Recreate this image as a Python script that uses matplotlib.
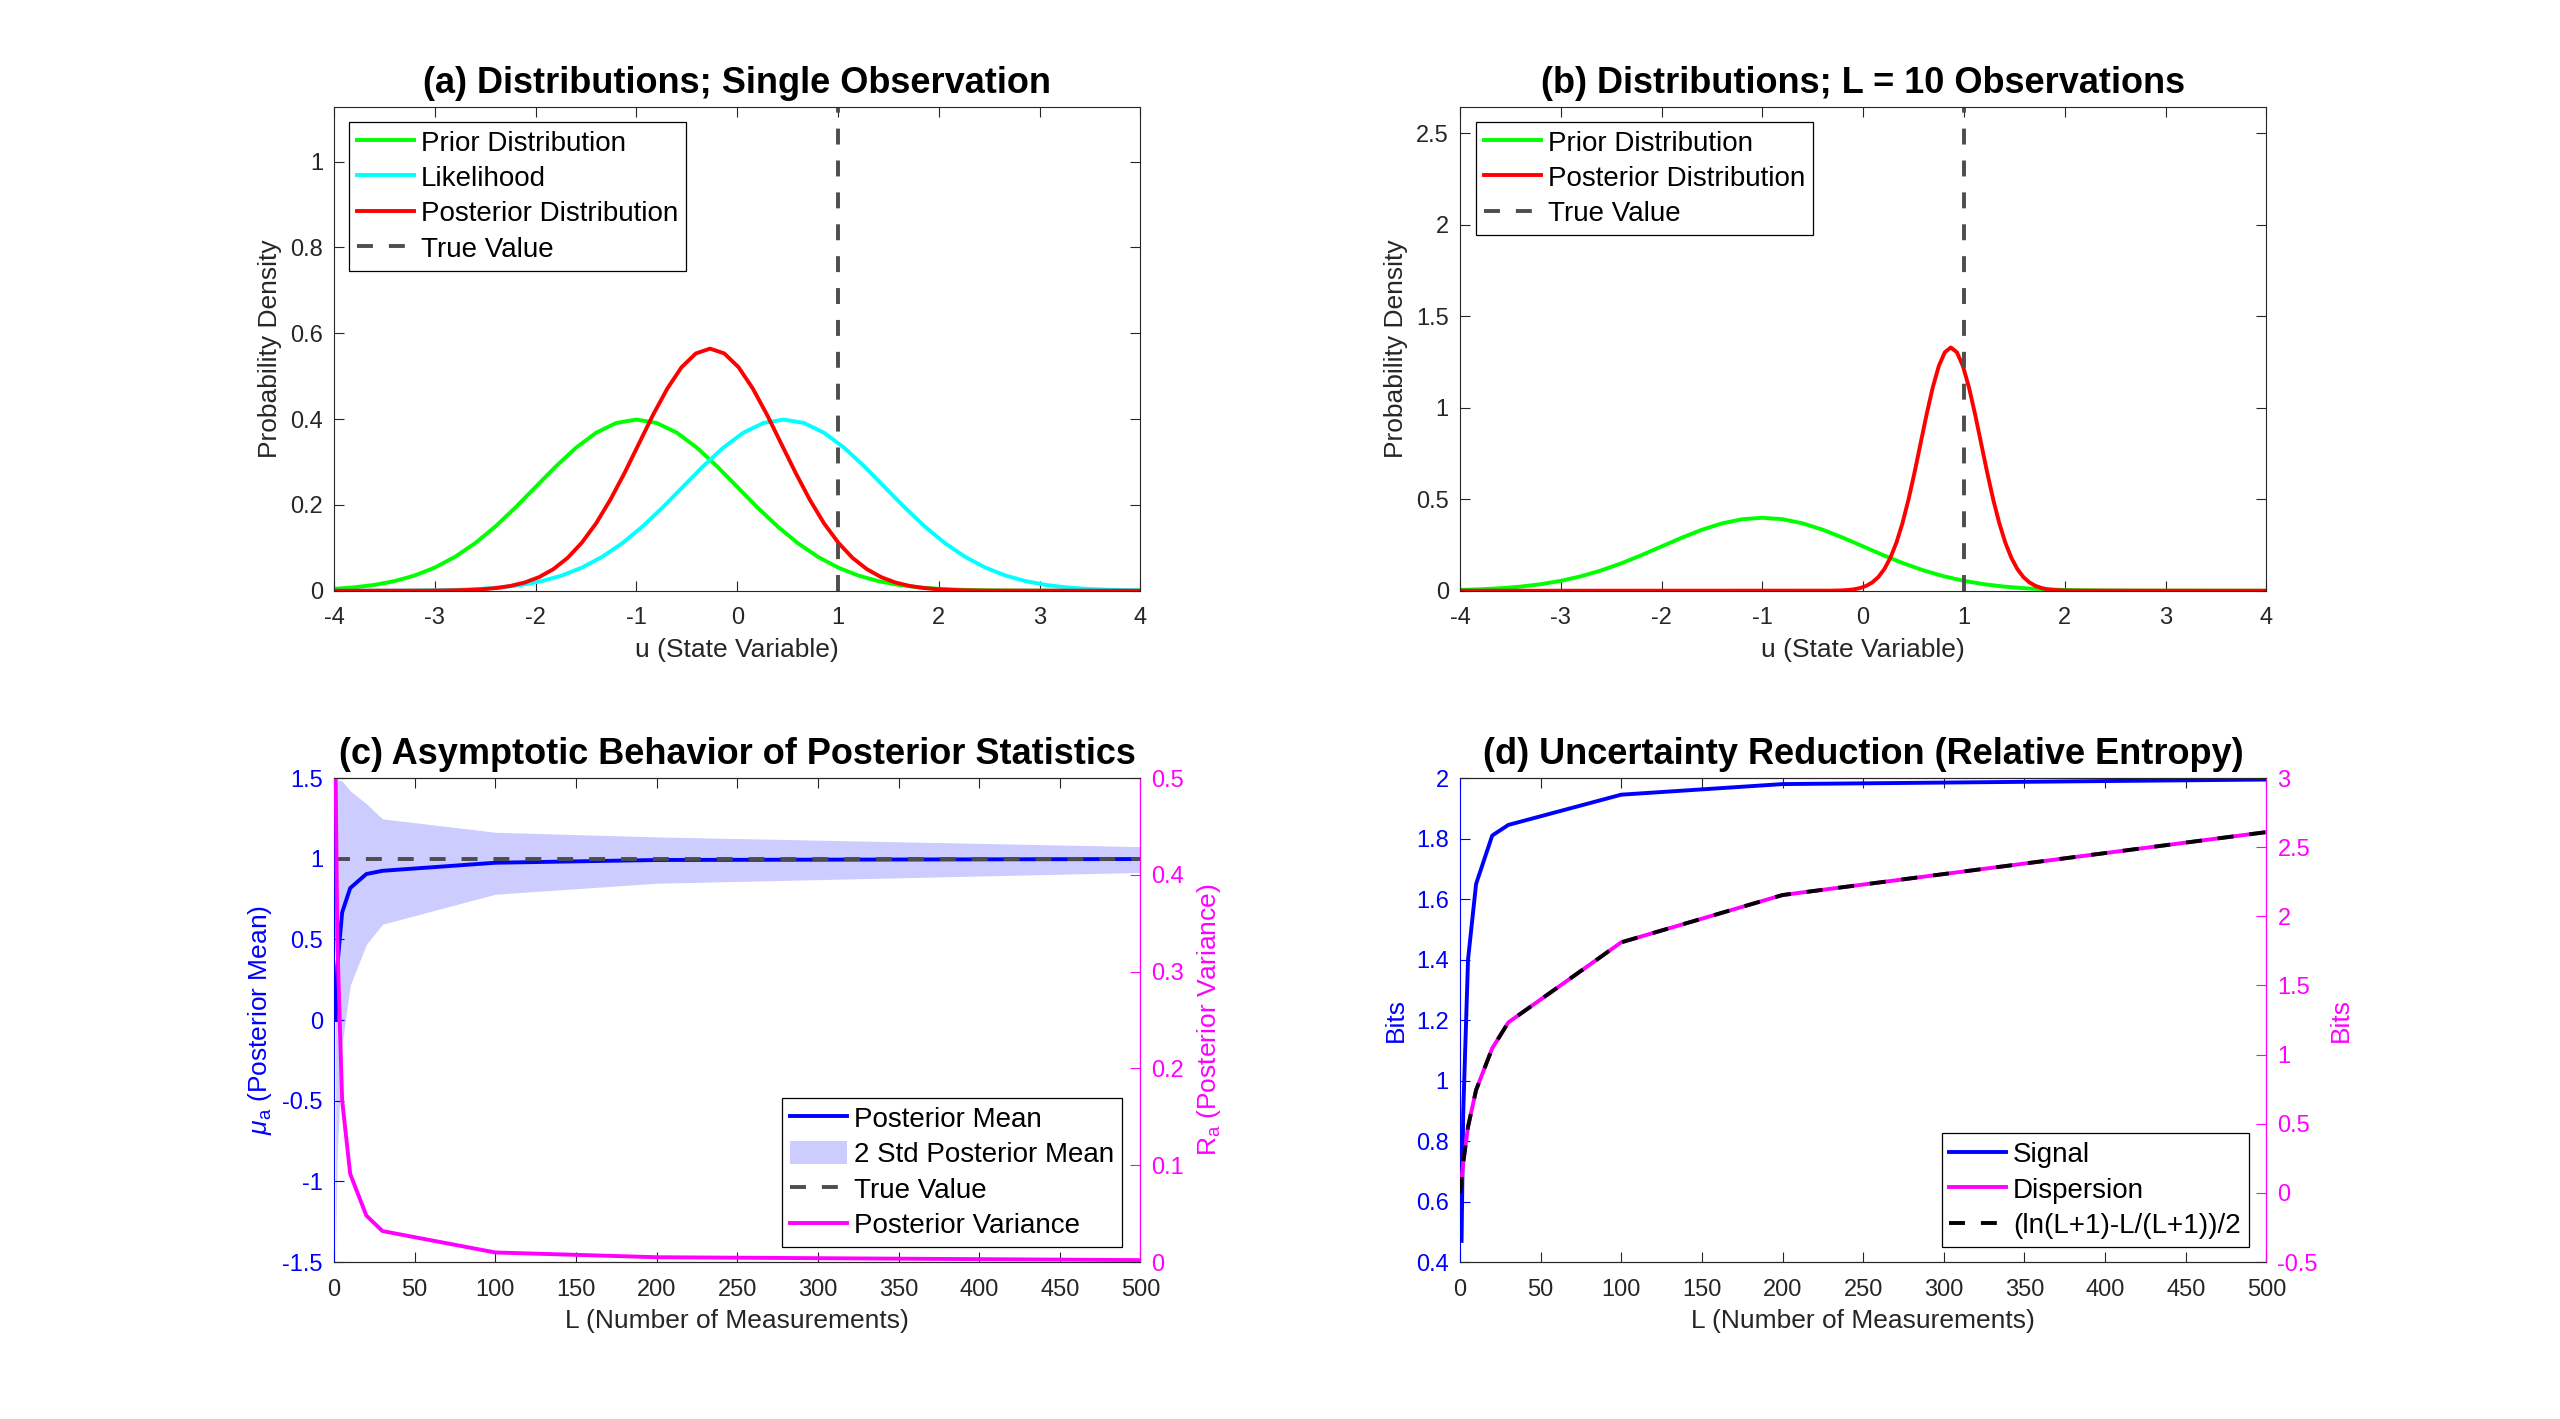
import numpy as np
import matplotlib.pyplot as plt
from matplotlib.ticker import FuncFormatter

# ---- (a) single observation: densities ----
u_prior = np.linspace(-4, 4, 41)
prior_pdf = [0.0044, 0.0079, 0.0136, 0.0224, 0.0355, 0.0540, 0.0790, 0.1109, 0.1497, 0.1942,
             0.2420, 0.2897, 0.3332, 0.3683, 0.3910, 0.3989, 0.3910, 0.3683, 0.3332, 0.2897,
             0.2420, 0.1942, 0.1497, 0.1109, 0.0790, 0.0540, 0.0355, 0.0224, 0.0136, 0.0079,
             0.0044, 0.0024, 0.0012, 0.0006, 0.0003, 0.0001, 0.0001, 0.0, 0.0, 0.0, 0.0]

u_lik = [-4.0, -3.94, -3.74, -3.54, -3.34, -3.14, -2.94, -2.74, -2.54, -2.34, -2.14,
         -1.94, -1.74, -1.54, -1.34, -1.14, -0.94, -0.74, -0.54, -0.34, -0.14,
         0.06, 0.26, 0.46, 0.66, 0.86, 1.06, 1.26, 1.46, 1.66, 1.86,
         2.06, 2.26, 2.46, 2.66, 2.86, 3.06, 3.26, 3.46, 3.66, 3.86, 4.0]
lik_pdf = [0.0, 0.0, 0.0001, 0.0001, 0.0003, 0.0006, 0.0012, 0.0024, 0.0044, 0.0079, 0.0136,
           0.0224, 0.0355, 0.0540, 0.0790, 0.1109, 0.1497, 0.1942, 0.2420, 0.2897, 0.3332,
           0.3683, 0.3910, 0.3989, 0.3910, 0.3683, 0.3332, 0.2897, 0.2420, 0.1942, 0.1497,
           0.1109, 0.0790, 0.0540, 0.0355, 0.0224, 0.0136, 0.0079, 0.0044, 0.0024, 0.0012, 0.0008]

u_post1 = [-4.0, -3.098, -2.957, -2.815, -2.674, -2.532, -2.391, -2.250, -2.108, -1.967, -1.825,
           -1.684, -1.543, -1.401, -1.260, -1.118, -0.977, -0.836, -0.694, -0.553, -0.411,
           -0.270, -0.129, 0.013, 0.154, 0.296, 0.437, 0.579, 0.720, 0.861, 1.003,
           1.144, 1.286, 1.427, 1.568, 1.710, 1.851, 1.993, 2.134, 2.275, 2.417, 2.558, 4.0]
post1_pdf = [0.0, 0.0002, 0.0004, 0.0009, 0.0017, 0.0034, 0.0063, 0.0112, 0.0192, 0.0317, 0.0502,
             0.0764, 0.1117, 0.1569, 0.2118, 0.2746, 0.3422, 0.4097, 0.4712, 0.5208, 0.5530,
             0.5642, 0.5530, 0.5208, 0.4712, 0.4097, 0.3422, 0.2746, 0.2118, 0.1569, 0.1117,
             0.0764, 0.0502, 0.0317, 0.0192, 0.0112, 0.0063, 0.0034, 0.0017, 0.0009, 0.0004, 0.0002, 0.0]

# ---- (b) L = 10 observations ----
u_post10 = [-4.0, -0.33, -0.27, -0.21, -0.15, -0.09, -0.03, 0.03, 0.09, 0.15, 0.21,
            0.27, 0.33, 0.39, 0.45, 0.51, 0.57, 0.63, 0.69, 0.75, 0.81,
            0.87, 0.93, 0.99, 1.05, 1.11, 1.17, 1.23, 1.29, 1.35, 1.41,
            1.47, 1.53, 1.59, 1.65, 1.71, 1.77, 1.83, 1.89, 1.95, 2.01, 2.07, 4.0]
post10_pdf = [0.0, 0.0004, 0.0010, 0.0020, 0.0041, 0.0079, 0.0148, 0.0264, 0.0453, 0.0746, 0.1182,
              0.1800, 0.2632, 0.3697, 0.4991, 0.6473, 0.8066, 0.9656, 1.1107, 1.2276, 1.3035,
              1.3298, 1.3035, 1.2276, 1.1107, 0.9656, 0.8066, 0.6473, 0.4991, 0.3697, 0.2632,
              0.1800, 0.1182, 0.0746, 0.0453, 0.0264, 0.0148, 0.0079, 0.0041, 0.0020, 0.0010, 0.0004, 0.0]

true_value = 1.0

# ---- (c) / (d) versus number of measurements ----
L = [1, 2, 5, 10, 20, 30, 100, 200, 500]
post_mean = [0.0, 0.333, 0.667, 0.818, 0.905, 0.925, 0.975, 0.992, 0.998]
post_var = [0.5, 0.333, 0.167, 0.091, 0.048, 0.032, 0.0099, 0.005, 0.002]
band_lo = [-1.414, -0.822, -0.149, 0.215, 0.469, 0.594, 0.780, 0.848, 0.915]
band_hi = [1.414, 1.488, 1.483, 1.421, 1.341, 1.247, 1.164, 1.135, 1.075]

signal_bits = [0.47, 0.89, 1.40, 1.65, 1.81, 1.845, 1.945, 1.98, 1.995]
dispersion_bits = [0.097, 0.216, 0.479, 0.744, 1.046, 1.233, 1.812, 2.154, 2.609]
L_formula = [0, 1, 2, 5, 10, 20, 30, 100, 200, 500]
formula_bits = [0.0, 0.097, 0.216, 0.479, 0.744, 1.046, 1.233, 1.812, 2.154, 2.609]

AXC = (0.15, 0.15, 0.15)
TRUEC = (0.3, 0.3, 0.3)
LW = 2.8
DASH = (4.1, 4.1)
FS_TICK = 17
FS_LAB = 19
FS_LEG = 20
FS_TITLE = 26

fmt = FuncFormatter(lambda v, p: '%g' % round(v, 6))


def style(ax, right=True):
    ax.tick_params(direction='in', length=7, width=0.8, labelsize=FS_TICK, pad=8,
                   top=True, right=right, colors=AXC)
    ax.tick_params(axis='x', pad=12)
    for s in ax.spines.values():
        s.set_color(AXC)
        s.set_linewidth(0.8)
    ax.xaxis.set_major_formatter(fmt)
    ax.yaxis.set_major_formatter(fmt)


def legend(ax, handles, labels, loc, anchor):
    leg = ax.legend(handles, labels, loc=loc, bbox_to_anchor=anchor, borderaxespad=0,
                    fontsize=FS_LEG, fancybox=False, framealpha=1, edgecolor='black',
                    borderpad=0.28, handlelength=2.05, handleheight=0.9, handletextpad=0.25,
                    labelspacing=0.3)
    leg.get_frame().set_linewidth(0.9)
    return leg


def main():
    plt.rcParams['font.family'] = ['Liberation Sans', 'DejaVu Sans']
    plt.rcParams['mathtext.fontset'] = 'custom'
    plt.rcParams['mathtext.rm'] = 'Liberation Sans'
    plt.rcParams['mathtext.it'] = 'Liberation Sans:italic'
    plt.rcParams['axes.unicode_minus'] = False

    fig = plt.figure(figsize=(25.6, 14.19), dpi=100)
    W, H = 0.315, 0.3411
    ax_a = fig.add_axes([0.1305, 0.5837, W, H])
    ax_b = fig.add_axes([0.5703, 0.5837, W, H])
    ax_c = fig.add_axes([0.1305, 0.1106, W, H])
    ax_d = fig.add_axes([0.5703, 0.1106, W, H])

    # (a)
    h1, = ax_a.plot(u_prior, prior_pdf, color=(0, 1, 0), lw=LW)
    h2, = ax_a.plot(u_lik, lik_pdf, color=(0, 1, 1), lw=LW)
    h3, = ax_a.plot(u_post1, post1_pdf, color=(1, 0, 0), lw=LW)
    h4 = ax_a.axvline(true_value, color=TRUEC, lw=LW, dashes=DASH)
    ax_a.set_xlim(-4, 4)
    ax_a.set_ylim(0, 1.128)
    ax_a.set_xticks(range(-4, 5))
    ax_a.set_yticks([0, 0.2, 0.4, 0.6, 0.8, 1.0])
    style(ax_a)
    ax_a.set_xlabel('u (State Variable)', fontsize=FS_LAB, color=AXC, labelpad=6)
    ax_a.set_ylabel('Probability Density', fontsize=FS_LAB, color=AXC, labelpad=6)
    ax_a.set_title('(a) Distributions; Single Observation', fontsize=FS_TITLE,
                   fontweight='bold', pad=10)
    legend(ax_a, [h1, h2, h3, h4],
           ['Prior Distribution', 'Likelihood', 'Posterior Distribution', 'True Value'],
           'upper left', (0.019, 0.969))

    # (b)
    h1, = ax_b.plot(u_prior, prior_pdf, color=(0, 1, 0), lw=LW)
    h3, = ax_b.plot(u_post10, post10_pdf, color=(1, 0, 0), lw=LW)
    h4 = ax_b.axvline(true_value, color=TRUEC, lw=LW, dashes=DASH)
    ax_b.set_xlim(-4, 4)
    ax_b.set_ylim(0, 2.646)
    ax_b.set_xticks(range(-4, 5))
    ax_b.set_yticks([0, 0.5, 1, 1.5, 2, 2.5])
    style(ax_b)
    ax_b.set_xlabel('u (State Variable)', fontsize=FS_LAB, color=AXC, labelpad=6)
    ax_b.set_ylabel('Probability Density', fontsize=FS_LAB, color=AXC, labelpad=6)
    ax_b.set_title('(b) Distributions; L = 10 Observations', fontsize=FS_TITLE,
                   fontweight='bold', pad=10)
    legend(ax_b, [h1, h3, h4], ['Prior Distribution', 'Posterior Distribution', 'True Value'],
           'upper left', (0.02, 0.969))

    # (c)
    ax_c2 = ax_c.twinx()
    hf = ax_c.fill_between(L, band_lo, band_hi, color=(0.8, 0.8, 1.0), lw=0)
    hm, = ax_c.plot(L, post_mean, color=(0, 0, 1), lw=LW)
    ht = ax_c.axhline(true_value, color=TRUEC, lw=LW, dashes=DASH)
    hv, = ax_c2.plot(L, post_var, color=(1, 0, 1), lw=LW)
    ax_c.set_xlim(0, 500)
    ax_c.set_ylim(-1.5, 1.5)
    ax_c2.set_ylim(0, 0.5)
    ax_c.set_xticks(range(0, 501, 50))
    ax_c.set_yticks([-1.5, -1, -0.5, 0, 0.5, 1, 1.5])
    ax_c2.set_yticks([0, 0.1, 0.2, 0.3, 0.4, 0.5])
    style(ax_c, right=False)
    style(ax_c2)
    ax_c.tick_params(axis='y', colors=(0, 0, 1))
    ax_c2.tick_params(axis='y', colors=(1, 0, 1), left=False)
    ax_c.spines['left'].set_color((0, 0, 1))
    ax_c2.spines['left'].set_visible(False)
    ax_c2.spines['right'].set_color((1, 0, 1))
    ax_c.set_xlabel('L (Number of Measurements)', fontsize=FS_LAB, color=AXC, labelpad=6)
    ax_c.set_ylabel(r'$\mu_{\mathrm{a}}$ (Posterior Mean)', fontsize=FS_LAB, color=(0, 0, 1),
                    labelpad=6)
    ax_c2.set_ylabel(r'R$_{\mathrm{a}}$ (Posterior Variance)', fontsize=FS_LAB, color=(1, 0, 1),
                     labelpad=8)
    ax_c.set_title('(c) Asymptotic Behavior of Posterior Statistics', fontsize=FS_TITLE,
                   fontweight='bold', pad=10)
    legend(ax_c2, [hm, hf, ht, hv],
           ['Posterior Mean', '2 Std Posterior Mean', 'True Value', 'Posterior Variance'],
           'lower right', (0.977, 0.031))

    # (d)
    ax_d2 = ax_d.twinx()
    hs, = ax_d.plot(L, signal_bits, color=(0, 0, 1), lw=LW)
    hd, = ax_d2.plot(L, dispersion_bits, color=(1, 0, 1), lw=LW)
    hk, = ax_d2.plot(L_formula, formula_bits, color='black', lw=LW, dashes=DASH)
    ax_d.set_xlim(0, 500)
    ax_d.set_ylim(0.4, 2)
    ax_d2.set_ylim(-0.5, 3)
    ax_d.set_xticks(range(0, 501, 50))
    ax_d.set_yticks([0.4, 0.6, 0.8, 1, 1.2, 1.4, 1.6, 1.8, 2])
    ax_d2.set_yticks([-0.5, 0, 0.5, 1, 1.5, 2, 2.5, 3])
    style(ax_d, right=False)
    style(ax_d2)
    ax_d.tick_params(axis='y', colors=(0, 0, 1))
    ax_d2.tick_params(axis='y', colors=(1, 0, 1), left=False)
    ax_d.spines['left'].set_color((0, 0, 1))
    ax_d2.spines['left'].set_visible(False)
    ax_d2.spines['right'].set_color((1, 0, 1))
    ax_d.set_xlabel('L (Number of Measurements)', fontsize=FS_LAB, color=AXC, labelpad=6)
    ax_d.set_ylabel('Bits', fontsize=FS_LAB, color=(0, 0, 1), labelpad=6)
    ax_d2.set_ylabel('Bits', fontsize=FS_LAB, color=(1, 0, 1), labelpad=8)
    ax_d.set_title('(d) Uncertainty Reduction (Relative Entropy)', fontsize=FS_TITLE,
                   fontweight='bold', pad=10)
    legend(ax_d2, [hs, hd, hk], ['Signal', 'Dispersion', '(ln(L+1)-L/(L+1))/2'],
           'lower right', (0.978, 0.031))

    fig.savefig('out.png', dpi=100, facecolor='white')


if __name__ == '__main__':
    main()
